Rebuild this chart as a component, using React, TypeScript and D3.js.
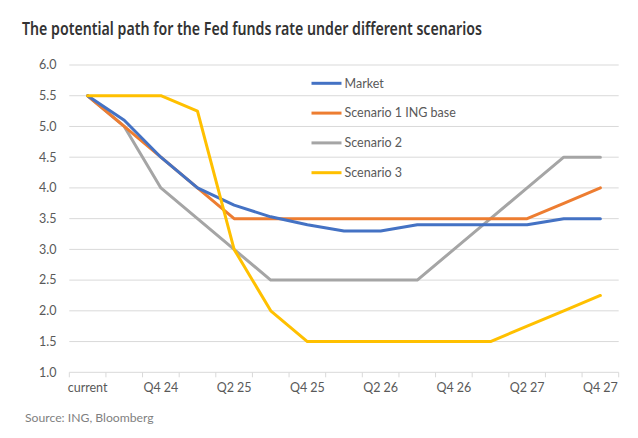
import React from "react";
import * as d3 from "d3";

const categories = ["current", "Q3 24", "Q4 24", "Q1 25", "Q2 25", "Q3 25", "Q4 25", "Q1 26", "Q2 26", "Q3 26", "Q4 26", "Q1 27", "Q2 27", "Q3 27", "Q4 27"];
const market = [5.5, 5.1, 4.5, 4.0, 3.72, 3.53, 3.4, 3.3, 3.3, 3.4, 3.4, 3.4, 3.4, 3.5, 3.5];
const scenario1 = [5.5, 5.0, 4.5, 4.0, 3.5, 3.5, 3.5, 3.5, 3.5, 3.5, 3.5, 3.5, 3.5, 3.75, 4.0];
const scenario2 = [5.5, 5.0, 4.0, 3.5, 3.0, 2.5, 2.5, 2.5, 2.5, 2.5, 3.0, 3.5, 4.0, 4.5, 4.5];
const scenario3 = [5.5, 5.5, 5.5, 5.25, 3.0, 2.0, 1.5, 1.5, 1.5, 1.5, 1.5, 1.5, 1.75, 2.0, 2.25];
const yTicks = [1.0, 1.5, 2.0, 2.5, 3.0, 3.5, 4.0, 4.5, 5.0, 5.5, 6.0];
const seriesNames = ["Market", "Scenario 1 ING base", "Scenario 2", "Scenario 3"];
const seriesColors = ["#4472C4", "#ED7D31", "#A5A5A5", "#FFC000"];

export default function App() {
  const W = 638, H = 438;
  const left = 69.3, right = 618.7, top = 65, bottom = 372.3;
  const x = d3.scaleBand<string>().domain(categories).range([left, right]);
  const y = d3.scaleLinear().domain([1, 6]).range([bottom, top]);
  const cx = (c: string) => (x(c) as number) + x.bandwidth() / 2;
  const line = d3
    .line<number>()
    .x((_, i) => cx(categories[i]))
    .y((v) => y(v));
  const series = [market, scenario1, scenario2, scenario3];
  const drawOrder = [2, 1, 0, 3];
  const font = "Lato, 'Open Sans', sans-serif";
  const boundaries = [...categories.map((c) => x(c) as number), right];

  return (
    <svg width={W} height={H} style={{ position: "absolute", left: 0, top: 0, background: "#fff" }}>
      <rect x={0} y={0} width={W} height={H} fill="#fff" />
      <text x={22} y={35} fontFamily="'Noto Sans', sans-serif" fontWeight={600} fontSize={17.5} fill="#333333" textLength={460} lengthAdjust="spacingAndGlyphs">
        The potential path for the Fed funds rate under different scenarios
      </text>
      {yTicks.map((t) => (
        <g key={t}>
          {t > 1 && <line x1={left} x2={right} y1={y(t)} y2={y(t)} stroke="#D9D9D9" strokeWidth={1} />}
          <text x={56.5} y={y(t)} dy="0.35em" textAnchor="end" fontFamily={font} fontSize={12.5} fill="#595959">
            {t.toFixed(1)}
          </text>
        </g>
      ))}
      <line x1={left} x2={right} y1={bottom} y2={bottom} stroke="#D9D9D9" strokeWidth={1} />
      {boundaries.map((b, i) => (
        <line key={i} x1={b} x2={b} y1={bottom} y2={bottom + 5} stroke="#D9D9D9" strokeWidth={1} />
      ))}
      {categories.map((c, i) =>
        i % 2 === 0 ? (
          <text key={c} x={cx(c)} y={392} textAnchor="middle" fontFamily={font} fontSize={12.5} fill="#595959">
            {c}
          </text>
        ) : null
      )}
      {drawOrder.map((k) => (
        <path key={k} d={line(series[k]) || ""} fill="none" stroke={seriesColors[k]} strokeWidth={3} strokeLinejoin="round" strokeLinecap="round" />
      ))}
      {seriesNames.map((n, i) => {
        const ly = 83.3 + i * 29.8;
        return (
          <g key={n}>
            <line x1={311.5} x2={341.5} y1={ly} y2={ly} stroke={seriesColors[i]} strokeWidth={3} />
            <text x={344.5} y={ly} dy="0.35em" fontFamily={font} fontSize={12.5} fill="#595959">
              {n}
            </text>
          </g>
        );
      })}
      <text x={25} y={422} fontFamily={font} fontSize={12.2} fill="#7F7F7F">
        Source: ING, Bloomberg
      </text>
    </svg>
  );
}
